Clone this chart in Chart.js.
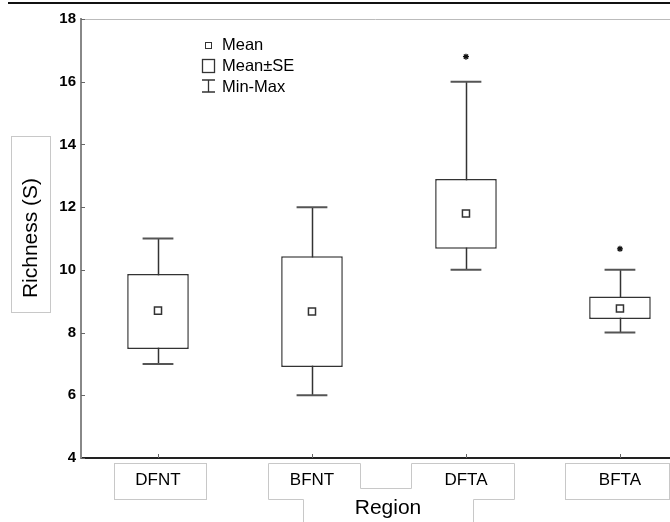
<!DOCTYPE html>
<html>
<head>
<meta charset="utf-8">
<script src="https://cdn.jsdelivr.net/npm/chart.js@4"></script>
<style>
  html, body { margin: 0; padding: 0; background: #fff; overflow: hidden; }
  #wrap { position: relative; width: 670px; height: 522px; }
</style>
</head>
<body>
<div id="wrap"><canvas id="chart" width="670" height="522"></canvas></div>
<script>
// Data
const regions = ['DFNT', 'BFNT', 'DFTA', 'BFTA'];
const means = [8.7, 8.67, 11.8, 8.77];
const seLow = [7.48, 6.9, 10.67, 8.43];
const seHigh = [9.87, 10.43, 12.9, 9.15];
const mins = [7, 6, 10, 8];
const maxs = [11, 12, 16, 10];
// extreme points (asterisks)
const starRegion = [2, 3];
const starValue = [16.8, 10.67];
const yTicks = [4, 6, 8, 10, 12, 14, 16, 18];

const FONT = '"Liberation Sans", Arial, sans-serif';

// Whiskers, frame, legend and label boxes
const decor = {
    id: 'decor',
    beforeDatasetsDraw(chart) {
        const { ctx, scales: { x, y } } = chart;
        ctx.save();
        for (let i = 0; i < regions.length; i++) {
            const cx = Math.round(x.getPixelForValue(i)) + 0.5;
            const yMin = y.getPixelForValue(mins[i]);
            const yMax = y.getPixelForValue(maxs[i]);
            ctx.strokeStyle = '#333';
            ctx.lineWidth = 1.5;
            ctx.beginPath();
            ctx.moveTo(cx, yMax);
            ctx.lineTo(cx, yMin);
            ctx.stroke();
            // caps
            const l = x.getPixelForValue(i - 0.1);
            const r = x.getPixelForValue(i + 0.1);
            ctx.strokeStyle = '#555';
            ctx.lineWidth = 2;
            ctx.beginPath();
            ctx.moveTo(l, yMax); ctx.lineTo(r, yMax);
            ctx.moveTo(l, yMin); ctx.lineTo(r, yMin);
            ctx.stroke();
        }
        ctx.restore();
    },
    afterDraw(chart) {
        const { ctx, chartArea: a, scales: { x, y } } = chart;
        ctx.save();

        // black rule at the very top
        ctx.strokeStyle = '#111';
        ctx.lineWidth = 2;
        ctx.beginPath();
        ctx.moveTo(8, 3); ctx.lineTo(670, 3);
        ctx.stroke();

        // light top frame
        ctx.strokeStyle = '#bbb';
        ctx.lineWidth = 1;
        ctx.beginPath();
        ctx.moveTo(a.left, a.top + 0.5); ctx.lineTo(a.right, a.top + 0.5);
        ctx.stroke();

        // inside tick marks
        ctx.strokeStyle = '#666';
        ctx.lineWidth = 1;
        ctx.beginPath();
        yTicks.forEach(v => {
            const py = Math.round(y.getPixelForValue(v)) + 0.5;
            ctx.moveTo(a.left, py); ctx.lineTo(a.left + 4, py);
        });
        regions.forEach((r, i) => {
            const px = Math.round(x.getPixelForValue(i)) + 0.5;
            ctx.moveTo(px, a.bottom); ctx.lineTo(px, a.bottom - 4);
        });
        ctx.stroke();

        // legend
        ctx.strokeStyle = '#333';
        ctx.lineWidth = 1;
        ctx.strokeRect(205.5, 42.5, 6, 6);
        ctx.lineWidth = 1.3;
        ctx.strokeRect(202.5, 59.5, 12, 13);
        ctx.beginPath();
        ctx.moveTo(208.5, 80); ctx.lineTo(208.5, 92);
        ctx.moveTo(202, 80); ctx.lineTo(215, 80);
        ctx.moveTo(202, 92); ctx.lineTo(215, 92);
        ctx.stroke();
        ctx.fillStyle = '#000';
        ctx.font = '16.5px ' + FONT;
        ctx.textBaseline = 'middle';
        ctx.textAlign = 'left';
        ctx.fillText('Mean', 222, 45);
        ctx.fillText('Mean\u00b1SE', 222, 66);
        ctx.fillText('Min-Max', 222, 87);

        // text box outlines
        ctx.strokeStyle = '#c8c8c8';
        ctx.lineWidth = 1;
        ctx.strokeRect(11.5, 136.5, 39, 176);
        ctx.strokeRect(114.5, 463.5, 92, 36);
        ctx.strokeRect(565.5, 463.5, 104, 36);
        ctx.beginPath();
        ctx.moveTo(268.5, 463.5); ctx.lineTo(360.5, 463.5); ctx.lineTo(360.5, 488.5);
        ctx.lineTo(411.5, 488.5); ctx.lineTo(411.5, 463.5); ctx.lineTo(514.5, 463.5);
        ctx.lineTo(514.5, 499.5); ctx.lineTo(473.5, 499.5); ctx.lineTo(473.5, 530);
        ctx.moveTo(303.5, 530); ctx.lineTo(303.5, 499.5); ctx.lineTo(268.5, 499.5);
        ctx.lineTo(268.5, 463.5);
        ctx.stroke();

        // axis titles
        ctx.fillStyle = '#000';
        ctx.font = '21px ' + FONT;
        ctx.textAlign = 'center';
        ctx.fillText('Region', 388, 508);
        ctx.translate(31, 238);
        ctx.rotate(-Math.PI / 2);
        ctx.fillText('Richness (S)', 0, 0);

        ctx.restore();
    }
};

const ctx = document.getElementById('chart').getContext('2d');
new Chart(ctx, {
    type: 'bar',
    data: {
        datasets: [
            {
                type: 'scatter',
                data: starValue.map((v, k) => ({ x: starRegion[k], y: v })),
                pointStyle: 'star',
                radius: 3,
                borderColor: '#111',
                borderWidth: 1.3,
                order: 0
            },
            {
                type: 'scatter',
                data: means.map((m, i) => ({ x: i, y: m })),
                pointStyle: 'rect',
                radius: 5,
                backgroundColor: '#fff',
                borderColor: '#333',
                borderWidth: 1.5,
                order: 1
            },
            {
                type: 'bar',
                data: regions.map((r, i) => ({ x: i, y: [seLow[i], seHigh[i]] })),
                backgroundColor: '#fff',
                borderColor: '#333',
                borderWidth: 1.5,
                borderSkipped: false,
                barPercentage: 0.4,
                categoryPercentage: 1,
                order: 2
            }
        ]
    },
    options: {
        responsive: false,
        animation: false,
        layout: { autoPadding: false, padding: { top: 19, left: 0, right: 0, bottom: 0 } },
        plugins: { legend: { display: false }, tooltip: { enabled: false } },
        scales: {
            x: {
                type: 'linear',
                min: -0.5,
                max: 3.325,
                offset: false,
                grid: { display: false, drawTicks: false, offset: false },
                border: { display: true, color: '#222', width: 2 },
                afterBuildTicks: s => { s.ticks = regions.map((r, i) => ({ value: i })); },
                afterFit: s => { s.height = 64; },
                ticks: {
                    autoSkip: false,
                    maxRotation: 0,
                    padding: 12,
                    color: '#000',
                    font: { family: FONT, size: 17 },
                    callback: v => regions[v]
                }
            },
            y: {
                min: 4,
                max: 18,
                afterBuildTicks: s => { s.ticks = yTicks.map(v => ({ value: v })); },
                afterFit: s => { s.width = 81; },
                grid: { display: false, drawTicks: false },
                border: { display: true, color: '#888', width: 2 },
                ticks: {
                    autoSkip: false,
                    padding: 5,
                    color: '#000',
                    font: { family: FONT, size: 15, weight: 'bold' }
                }
            }
        }
    },
    plugins: [decor]
});
</script>
</body>
</html>
